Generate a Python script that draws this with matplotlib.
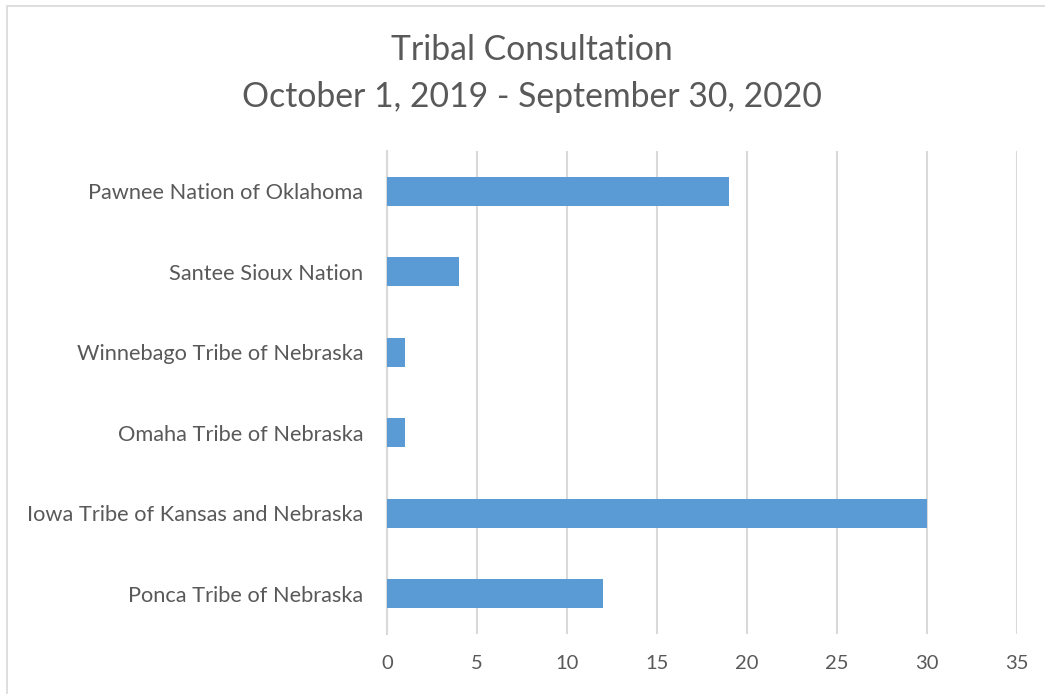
import matplotlib.pyplot as plt
from matplotlib.patches import Rectangle

tribes = [
    "Ponca Tribe of Nebraska",
    "Iowa Tribe of Kansas and Nebraska",
    "Omaha Tribe of Nebraska",
    "Winnebago Tribe of Nebraska",
    "Santee Sioux Nation",
    "Pawnee Nation of Oklahoma",
]
consultations = [12, 30, 1, 1, 4, 19]
x_ticks = [0, 5, 10, 15, 20, 25, 30, 35]

plt.rcParams['font.family'] = ['Lato', 'DejaVu Sans']
text_color = '#595959'

W, H = 1045, 694
fig = plt.figure(figsize=(W / 100, H / 100), dpi=100)
ax = fig.add_axes([387 / W, 1 - 634 / H, (1017 - 387) / W, (634 - 151) / H])

ax.barh(range(len(tribes)), consultations, height=0.355, color='#5B9BD5', zorder=3)

ax.set_xlim(0, 35)
ax.set_ylim(-0.5, len(tribes) - 0.5)
ax.set_xticks(x_ticks)
ax.set_yticks(range(len(tribes)))
ax.set_yticklabels(tribes)
ax.grid(axis='x', color='#D9D9D9', linewidth=1.5, zorder=0)
ax.tick_params(axis='both', length=0, colors=text_color)
ax.tick_params(axis='x', pad=15, labelsize=14.5)
ax.tick_params(axis='y', pad=17, labelsize=15.7)
for s in ['top', 'right', 'bottom']:
    ax.spines[s].set_visible(False)
ax.spines['left'].set_color('#D9D9D9')
ax.spines['left'].set_linewidth(1.5)

fig.text(532 / W, 1 - 50 / H, "Tribal Consultation", ha='center', va='center',
         fontsize=24.3, color=text_color)
fig.text(532 / W, 1 - 97 / H, "October 1, 2019 - September 30, 2020", ha='center',
         va='center', fontsize=24.3, color=text_color)

# chart frame (right and bottom edges fall outside the image)
fig.patches.append(Rectangle((7 / W, -0.1), 1.2, 1 - 6 / H + 0.1, transform=fig.transFigure,
                             fill=False, edgecolor='#D9D9D9', linewidth=1.2))

fig.savefig('out.png', dpi=100)
